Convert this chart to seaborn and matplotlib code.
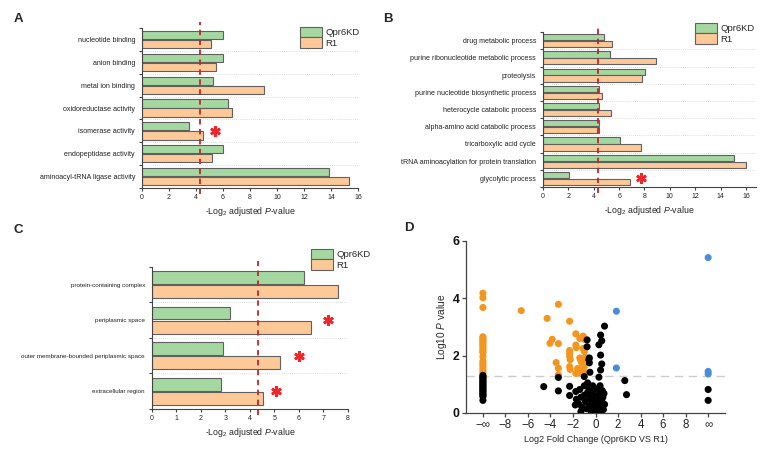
import matplotlib
matplotlib.use("Agg")
import matplotlib.pyplot as plt
from matplotlib.patches import Patch
import numpy as np
import pandas as pd
import seaborn as sns

# panel A: GO molecular function
a_terms = ["nucleotide binding", "anion binding", "metal ion binding", "oxidoreductase activity",
           "isomerase activity", "endopeptidase activity", "aminoacyl-tRNA ligase activity"]
a_qpr6kd = [5.98, 6.0, 5.23, 6.4, 3.5, 6.0, 13.85]
a_r1 = [5.1, 5.45, 9.04, 6.67, 4.49, 5.19, 15.33]
a_stars = {"isomerase activity": 5.43}

# panel B: GO biological process
b_terms = ["drug metabolic process", "purine ribonucleotide metabolic process", "proteolysis",
           "purine nucleotide biosynthetic process", "heterocycle catabolic process",
           "alpha-amino acid catabolic process", "tricarboxylic acid cycle",
           "tRNA aminoacylation for protein translation", "glycolytic process"]
b_qpr6kd = [4.79, 5.26, 8.08, 4.39, 4.39, 4.42, 6.1, 15.05, 2.05]
b_r1 = [5.45, 8.89, 7.79, 4.66, 5.37, 4.39, 7.71, 16.0, 6.82]
b_stars = {"glycolytic process": 7.76}

# panel C: GO cellular component
c_terms = ["protein-containing complex", "periplasmic space",
           "outer membrane-bounded periplasmic space", "extracellular region"]
c_qpr6kd = [6.23, 3.19, 2.89, 2.83]
c_r1 = [7.59, 6.51, 5.23, 4.55]
c_stars = {"periplasmic space": 7.17, "outer membrane-bounded periplasmic space": 6.0,
           "extracellular region": 5.08}

# panel D: volcano (x = log2 fold change, y = -log10 p); inf = only detected in one strain
down_x = [-np.inf] * 22 + [-6.6, -4.3, -3.3, -2.3, -3.85, -4.05, -3.3, -3.5, -3.3, -3.3,
                           -2.3, -2.3, -2.3, -2.25, -2.3, -2.25, -1.75, -1.75, -1.7, -1.4,
                           -1.1, -1.0, -1.1, -1.0, -1.4, -1.1, -1.3, -1.2, -1.0, -1.75,
                           -1.45, -1.1, -0.9, -1.6]
down_y = [4.18, 4.02, 3.68, 2.66, 2.61, 2.56, 2.51, 2.46, 2.40, 2.35, 2.29, 2.21, 2.15, 2.10,
          1.97, 1.82, 1.75, 1.68, 1.60, 1.52, 1.44, 1.38,
          3.57, 3.30, 3.79, 3.20, 2.57, 2.43, 2.42, 1.76, 1.56, 1.33,
          2.18, 2.08, 1.97, 1.86, 1.62, 1.52, 2.76, 2.37, 2.28, 2.60,
          2.68, 2.57, 2.25, 2.15, 1.92, 1.90, 1.82, 1.72, 1.60, 1.38,
          1.40, 1.45, 1.95, 1.55]
up_x = [1.85, 1.85, np.inf, np.inf, np.inf]
up_y = [3.55, 1.57, 5.42, 1.45, 1.36]
ns_x = [-np.inf] * 19 + [np.inf] * 2 + [
    -4.6, -3.3, -3.3, -2.3, -2.3, -1.75, -1.7, -1.8, -1.4, -1.3, -1.5, -1.2, -1.0, -1.0,
    -1.0, -0.9, -0.8, -0.75, -0.75, -0.55, -0.6, -0.55, -0.5, -0.7, -0.6, -0.7, -0.5, -0.6,
    -0.4, -0.45, -0.3, -0.3, -0.2, -0.2, -0.1, -0.1, 0.0, 0.0, 0.05, 0.1, 0.15, 0.2, 0.25,
    0.3, 0.35, 0.4, 0.45, 0.5, 0.55, 0.6, 0.7, 0.8, 0.2, 0.3, 0.45, 0.55, 0.3, 0.45, 0.55,
    0.45, 0.8, 0.4, 0.6, 0.75, 0.2, -0.15, -0.25, 2.6, 2.75, -1.3, -0.35, 0.1, -0.05, 0.65]
ns_y = [1.31, 1.27, 1.22, 1.19, 1.13, 1.09, 1.05, 1.00, 0.97, 0.92, 0.88, 0.84, 0.79, 0.75,
        0.71, 0.66, 0.62, 0.57, 0.44] + [0.82, 0.44] + [
    0.92, 1.24, 0.77, 0.93, 0.61, 0.75, 0.48, 0.28, 0.82, 0.55, 0.32, 0.20, 1.27, 0.95,
    0.62, 0.40, 0.15, 2.55, 2.31, 1.92, 1.85, 1.75, 1.42, 1.05, 0.88, 0.72, 0.55, 0.35,
    0.25, 0.10, 0.45, 0.68, 0.30, 0.05, 0.18, 0.40, 0.08, 0.28, 0.52, 0.15, 0.03, 0.35, 0.22,
    0.10, 0.60, 0.05, 0.28, 0.15, 0.45, 0.20, 0.12, 0.30, 0.85, 1.25, 2.72, 2.52, 2.38, 2.02,
    1.71, 1.50, 3.03, 0.95, 0.78, 0.68, 0.62, 0.82, 0.95, 1.13, 0.64, 0.05, 0.15, 0.22, 0.12,
    0.55]

GREEN = "#a5d8a0"
ORANGE = "#fdc998"
EDGE = "#606060"
THRESHOLD = -np.log2(0.05)

sns.set_theme(style="white")
plt.rcParams["font.family"] = ["Liberation Sans", "DejaVu Sans"]
plt.rcParams["mathtext.fontset"] = "custom"
plt.rcParams["mathtext.rm"] = "Liberation Sans"
plt.rcParams["mathtext.it"] = "Liberation Sans:italic"
plt.rcParams["axes.unicode_minus"] = True

fig = plt.figure(figsize=(7.67, 4.57), dpi=100)


def draw_enrichment(ax, terms, qpr, r1, stars, xmax, xticks, legend_xy, labelsize=5.1):
    df = pd.DataFrame({
        "term": terms * 2,
        "strain": ["Qpr6KD"] * len(terms) + ["R1"] * len(terms),
        "value": qpr + r1,
    })
    sns.barplot(data=df, x="value", y="term", hue="strain", hue_order=["Qpr6KD", "R1"],
                palette={"Qpr6KD": GREEN, "R1": ORANGE}, orient="h", width=0.8, gap=0.1,
                saturation=1, edgecolor=EDGE, linewidth=0.8, legend=False, ax=ax)
    n = len(terms)
    for b in np.arange(n - 1) + 0.5:
        ax.axhline(b, color="#d4d4d4", lw=0.6, ls=(0, (1, 1.5)), zorder=0)
    ax.set_ylim(n - 0.5, -0.5)
    ax.set_xlim(0, xmax)
    ax.set_xticks(xticks)
    ax.set_yticks(range(n), terms)
    ax.set_yticks(np.arange(n + 1) - 0.5, minor=True)
    ax.tick_params(axis="y", which="major", length=0, pad=5, labelsize=labelsize,
                   labelcolor="#222222")
    ax.tick_params(axis="y", which="minor", length=2.5, width=0.8, color="#444444", left=True)
    ax.tick_params(axis="x", length=2.5, width=0.8, color="#444444", bottom=True, pad=1.5,
                   labelsize=5, labelcolor="#222222")
    ax.set_ylabel("")
    ax.set_xlabel(r"-Log$_2$ adjusted $\it{P}$-value", fontsize=6.3, labelpad=3)
    sns.despine(ax=ax)
    for side in ("left", "bottom"):
        ax.spines[side].set_color("#444444")
        ax.spines[side].set_linewidth(0.8)
    ax.axvline(THRESHOLD, ymin=-0.04, ymax=1.04, clip_on=False, color="#c0262b",
               lw=1.3, ls=(0, (3, 2.5)), zorder=5)
    for term, xs in stars.items():
        ax.plot([xs], [terms.index(term)], marker=(6, 2, 0), ms=7.5, mew=1.9,
                color="#f0262b", ls="none")
    handles = [Patch(facecolor=GREEN, edgecolor=EDGE, lw=0.8),
               Patch(facecolor=ORANGE, edgecolor=EDGE, lw=0.8)]
    ax.legend(handles, ["Qpr6KD", "R1"], loc="upper left", bbox_to_anchor=legend_xy,
              bbox_transform=fig.transFigure, frameon=False, fontsize=6.8, handlelength=2.3,
              handleheight=1.3, labelspacing=0, handletextpad=0.35, borderpad=0,
              borderaxespad=0)


ax_a = fig.add_axes([0.1851, 0.5886, 0.2816, 0.350])
draw_enrichment(ax_a, a_terms, a_qpr6kd, a_r1, a_stars, 16, range(0, 17, 2),
                (300 / 767, 1 - 27 / 457))
ax_b = fig.add_axes([0.708, 0.5908, 0.2777, 0.339])
draw_enrichment(ax_b, b_terms, b_qpr6kd, b_r1, b_stars, 16.8, range(0, 17, 2),
                (695 / 767, 1 - 23 / 457))
ax_c = fig.add_axes([0.198, 0.105, 0.2555, 0.311])
draw_enrichment(ax_c, c_terms, c_qpr6kd, c_r1, c_stars, 8, range(0, 9),
                (311 / 767, 1 - 249 / 457), labelsize=4.5)

# volcano
ax_d = fig.add_axes([0.6076, 0.0963, 0.3377, 0.3764])
vol = pd.DataFrame({
    "fc": down_x + up_x + ns_x,
    "logp": down_y + up_y + ns_y,
    "group": ["down"] * len(down_x) + ["up"] * len(up_x) + ["ns"] * len(ns_x),
})
# plot the "only in one strain" proteins at the +/- infinity tick positions
vol["fc_pos"] = vol["fc"].replace({-np.inf: -10, np.inf: 10})
sns.scatterplot(data=vol, x="fc_pos", y="logp", hue="group",
                palette={"down": "#f4961e", "up": "#4a8fd6", "ns": "black"},
                s=26, linewidth=0, legend=False, ax=ax_d, zorder=3)
ax_d.axhline(-np.log10(0.05), color="#cccccc", lw=1, ls=(0, (6, 4)), zorder=1)
ax_d.set_xlim(-11.5, 11.5)
ax_d.set_ylim(0, 6)
ax_d.set_xticks(range(-10, 11, 2),
                ["\u2212\u221e", "\u22128", "\u22126", "\u22124", "\u22122", "0", "2", "4", "6",
                 "8", "\u221e"])
ax_d.set_yticks([0, 2, 4, 6])
ax_d.tick_params(axis="x", length=3, width=0.9, color="#444444", bottom=True, pad=1.5,
                 labelsize=8.3, labelcolor="#222222")
ax_d.tick_params(axis="y", length=3, width=0.9, color="#444444", left=True, pad=1.5,
                 labelsize=8.8, labelcolor="#111111")
for lab in ax_d.get_yticklabels():
    lab.set_fontweight("bold")
ax_d.set_xlabel("Log2 Fold Change (Qpr6KD VS R1)", fontsize=6.5, labelpad=3)
ax_d.set_ylabel(r"Log10 $\it{P}$ value", fontsize=7.3, labelpad=3)
sns.despine(ax=ax_d)
for side in ("left", "bottom"):
    ax_d.spines[side].set_color("#444444")
    ax_d.spines[side].set_linewidth(0.9)

for letter, x, y in [("A", 14, 19), ("B", 383, 19), ("C", 14, 230), ("D", 404, 228)]:
    fig.text(x / 767, 1 - y / 457, letter, fontsize=9.5, fontweight="bold", va="center")

fig.savefig("out.png", dpi=100)
